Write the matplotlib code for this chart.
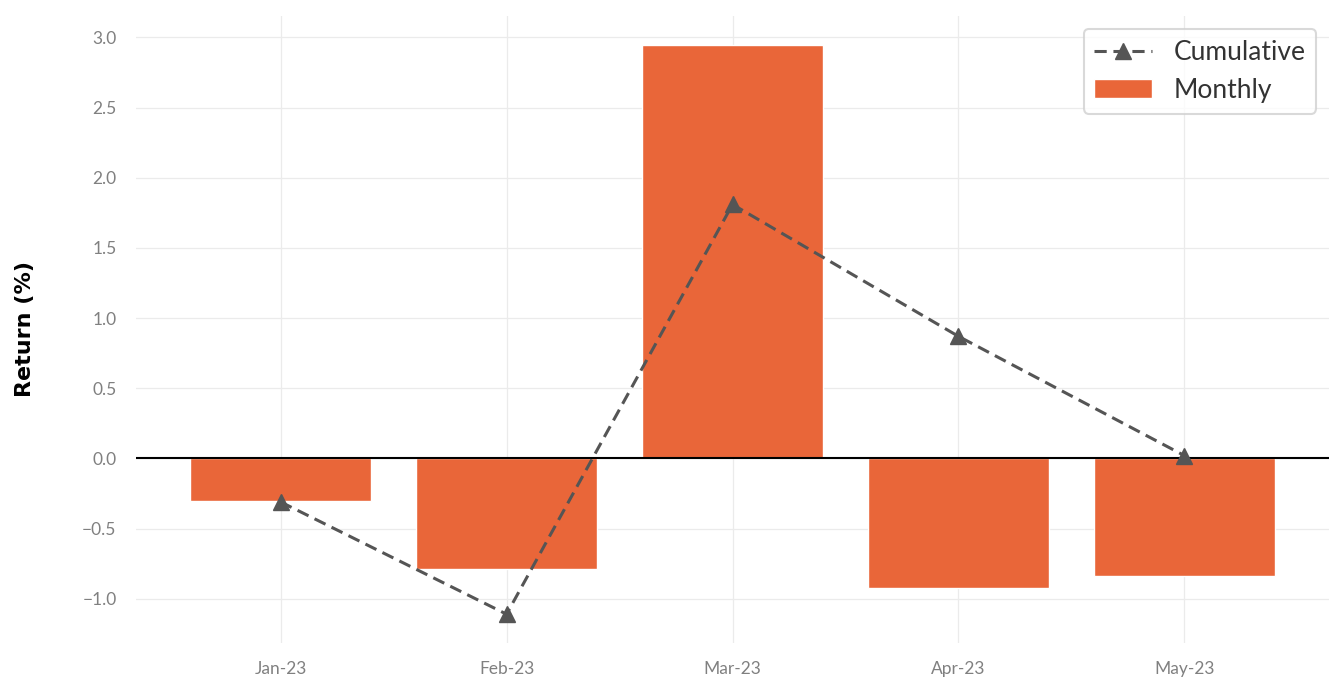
import matplotlib
matplotlib.use("Agg")
import matplotlib.pyplot as plt
import numpy as np

months = ["Jan-23", "Feb-23", "Mar-23", "Apr-23", "May-23"]
monthly = [-0.30, -0.79, 2.95, -0.92, -0.84]
cumulative = [-0.31, -1.11, 1.81, 0.87, 0.02]

bar_color = "#E96639"
line_color = "#555555"

plt.rcParams['font.family'] = ['Lato', 'DejaVu Sans']

fig = plt.figure(figsize=(13.36, 6.79), dpi=100)
ax = fig.add_axes([0.1018, 0.0535, 0.893, 0.9229])

x = np.arange(len(months))
ax.bar(x, monthly, width=0.8, color=bar_color, edgecolor="white", linewidth=1,
       label="Monthly", zorder=2)
ax.plot(x, cumulative, linestyle="--", color=line_color, marker="^", markersize=11,
        linewidth=2.2, dashes=(4, 2.2), label="Cumulative", zorder=3)
ax.axhline(0, color="black", linewidth=1.5, zorder=2.5)

ax.set_xticks(x)
ax.set_xticklabels(months)
ax.set_yticks(np.arange(-1.0, 3.01, 0.5))
ax.grid(True, color="#EBEBEB", linewidth=0.9, zorder=0)
ax.set_axisbelow(True)
for s in ax.spines.values():
    s.set_visible(False)
ax.tick_params(axis="both", length=0, labelsize=12.5, labelcolor="#808080")
ax.tick_params(axis="y", pad=14)
ax.tick_params(axis="x", pad=13)
ax.yaxis.set_major_formatter(matplotlib.ticker.FuncFormatter(
    lambda v, p: ("%.1f" % v).replace("-", "\u2212")))

ax.set_ylabel("Return (%)", fontsize=16, fontweight="bold", family=["DejaVu Sans"],
              labelpad=34)

leg = ax.legend(loc="upper right", fontsize=19, frameon=True, fancybox=True,
                edgecolor="#D0D0D0", borderpad=0.4, handlelength=2.2, labelspacing=0.5)
leg.get_frame().set_linewidth(1.5)
for t in leg.get_texts():
    t.set_color("#333333")

fig.savefig("out.png", dpi=100)
